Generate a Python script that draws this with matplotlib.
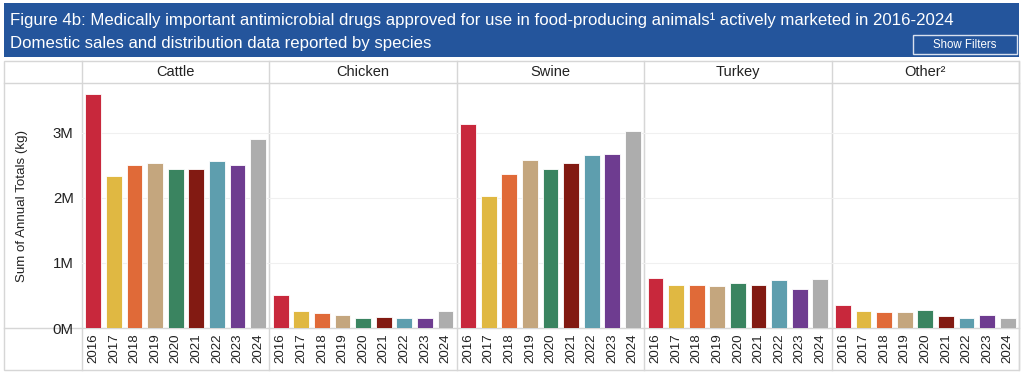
import matplotlib
matplotlib.use("Agg")
import matplotlib.pyplot as plt
from matplotlib.patches import Rectangle
from matplotlib.ticker import FuncFormatter

plt.rcParams['font.family'] = ['Liberation Sans', 'DejaVu Sans']

years = ['2016', '2017', '2018', '2019', '2020', '2021', '2022', '2023', '2024']
species = ['Cattle', 'Chicken', 'Swine', 'Turkey', 'Other²']
# values in millions of kg
cattle = [3.60, 2.335, 2.51, 2.53, 2.45, 2.45, 2.565, 2.51, 2.90]
chicken = [0.50, 0.26, 0.225, 0.195, 0.148, 0.164, 0.148, 0.148, 0.26]
swine = [3.13, 2.03, 2.365, 2.58, 2.45, 2.53, 2.66, 2.67, 3.03]
turkey = [0.763, 0.66, 0.66, 0.645, 0.696, 0.66, 0.733, 0.599, 0.748]
other = [0.358, 0.26, 0.24, 0.24, 0.276, 0.18, 0.148, 0.195, 0.148]
series = [cattle, chicken, swine, turkey, other]
year_colors = ['#C8283C', '#E0B842', '#E06A38', '#C4A67E', '#3A8460',
               '#821A12', '#5E9EAE', '#6E3C90', '#ADADAD']
yticks = [0, 1, 2, 3]

W, H = 1024, 374
fig = plt.figure(figsize=(W / 100, H / 100), dpi=100)

def px(x0, y0, x1, y1):
    return [x0 / W, 1 - y1 / H, (x1 - x0) / W, (y1 - y0) / H]

# title bar
bg = fig.add_axes([0, 0, 1, 1])
bg.set_xlim(0, W)
bg.set_ylim(H, 0)
bg.axis('off')
bg.add_patch(Rectangle((4, 3), 1015, 54, facecolor='#24559C', edgecolor='none'))
bg.text(10, 20, 'Figure 4b: Medically important antimicrobial drugs approved for use in food-producing animals¹ actively marketed in 2016-2024',
        color='white', fontsize=12.1, va='center', ha='left')
bg.text(10, 43, 'Domestic sales and distribution data reported by species',
        color='white', fontsize=12.1, va='center', ha='left')
bg.add_patch(Rectangle((913, 35), 104, 19, facecolor='#24559C', edgecolor='#D8E0EE', lw=1))
bg.text(965, 44.5, 'Show Filters', color='white', fontsize=8.3, va='center', ha='center')
# outer frame
bg.add_patch(Rectangle((4, 61), 1015, 309, facecolor='none', edgecolor='#D6D6D6', lw=1))
bg.plot([4, 1019], [83, 83], color='#D6D6D6', lw=1)
bg.plot([4, 1019], [328, 328], color='#D6D6D6', lw=1)
bg.plot([82, 82], [61, 370], color='#D6D6D6', lw=1)

left, right = 82, 1019
top, bottom = 83, 328
pw = (right - left) / len(species)
ymax = (bottom - top) / 65.1

for i, (name, vals) in enumerate(zip(species, series)):
    x0 = left + i * pw
    ax = fig.add_axes(px(x0, top, x0 + pw, bottom))
    ax.bar(range(len(years)), vals, width=0.77, color=year_colors,
           edgecolor='white', linewidth=0.6, zorder=3)
    ax.set_xlim(-0.55, len(years) - 0.45)
    ax.set_ylim(0, ymax)
    ax.set_yticks(yticks)
    ax.grid(axis='y', color='#F0F0F0', lw=0.8, zorder=0)
    ax.set_xticks(range(len(years)))
    ax.set_xticklabels(years, rotation=90, fontsize=9.6, color='#222222')
    ax.tick_params(axis='x', length=0, pad=4)
    ax.tick_params(axis='y', length=0)
    for s in ['top', 'left', 'bottom']:
        ax.spines[s].set_visible(False)
    ax.spines['right'].set_color('#D6D6D6')
    if i == 0:
        ax.yaxis.set_major_formatter(FuncFormatter(lambda v, p: f'{v:.0f}M'))
        ax.tick_params(axis='y', labelsize=10.8, pad=6, labelcolor='#222222')
        ax.set_ylabel('Sum of Annual Totals (kg)', fontsize=9.6, labelpad=18, color='#222222')
    else:
        ax.set_yticklabels([])
    ax.patch.set_alpha(0)
    # header strip
    bg.text(x0 + pw / 2, 72, name, fontsize=10.5, ha='center', va='center', color='#222222')
    bg.plot([x0 + pw, x0 + pw], [61, 370], color='#D6D6D6', lw=1)

fig.savefig('out.png', dpi=100)
